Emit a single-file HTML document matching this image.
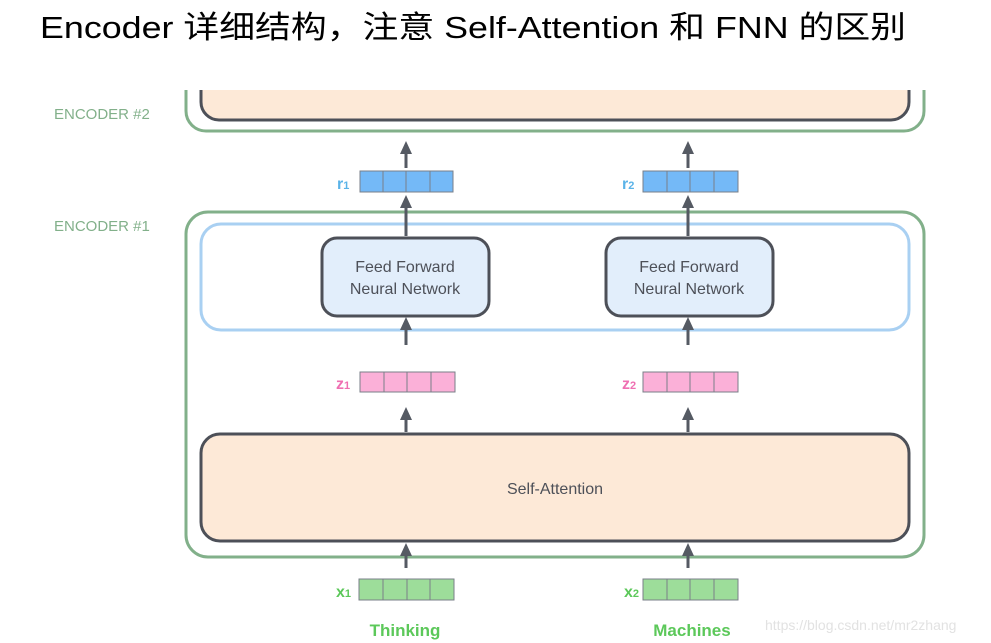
<!DOCTYPE html>
<html><head><meta charset="utf-8"><style>
html,body{margin:0;padding:0;background:#fff;width:991px;height:643px;overflow:hidden}
svg{display:block}
</style></head><body>
<svg width="991" height="643" viewBox="0 0 991 643" xmlns="http://www.w3.org/2000/svg" font-family="'Liberation Sans','DejaVu Sans',sans-serif">
<defs>
<clipPath id="c"><rect x="0" y="90" width="991" height="60"/></clipPath>
</defs>
<text x="40" y="38" font-size="31" fill="#000" textLength="866" lengthAdjust="spacingAndGlyphs" font-family="'Liberation Sans','Noto Sans CJK SC',sans-serif">Encoder 详细结构，注意 Self-Attention 和 FNN 的区别</text>

<g clip-path="url(#c)">
<rect x="186" y="40" width="738" height="91" rx="20" fill="none" stroke="#82b08a" stroke-width="3"/>
<rect x="201" y="40" width="708" height="80" rx="18" fill="#fde9d7" stroke="#4d5058" stroke-width="3"/>
</g>
<text x="54" y="119" font-size="15" fill="#82b08a">ENCODER #2</text>
<text x="54" y="231" font-size="15" fill="#82b08a">ENCODER #1</text>

<rect x="186" y="212" width="738" height="345" rx="22" fill="none" stroke="#82b08a" stroke-width="3"/>
<rect x="201" y="224" width="708" height="106" rx="20" fill="none" stroke="#a9d0f2" stroke-width="3"/>
<rect x="322" y="238" width="167" height="78" rx="15" fill="#e2eefb" stroke="#4d5058" stroke-width="3"/>
<rect x="606" y="238" width="167" height="78" rx="15" fill="#e2eefb" stroke="#4d5058" stroke-width="3"/>
<text x="405" y="272" font-size="16" fill="#4d5058" text-anchor="middle">Feed Forward</text>
<text x="405" y="294" font-size="16" fill="#4d5058" text-anchor="middle">Neural Network</text>
<text x="689" y="272" font-size="16" fill="#4d5058" text-anchor="middle">Feed Forward</text>
<text x="689" y="294" font-size="16" fill="#4d5058" text-anchor="middle">Neural Network</text>
<rect x="201" y="434" width="708" height="107" rx="19" fill="#fde9d7" stroke="#4d5058" stroke-width="3"/>
<text x="555" y="494" font-size="16" fill="#4d5058" text-anchor="middle">Self-Attention</text>

<g stroke="#555a63" stroke-width="3">
<line x1="406" y1="168" x2="406" y2="150"/><line x1="688" y1="168" x2="688" y2="150"/>
<line x1="406" y1="236" x2="406" y2="204"/><line x1="688" y1="236" x2="688" y2="204"/>
<line x1="406" y1="345" x2="406" y2="326"/><line x1="688" y1="345" x2="688" y2="326"/>
<line x1="406" y1="432" x2="406" y2="416"/><line x1="688" y1="432" x2="688" y2="416"/>
<line x1="406" y1="568" x2="406" y2="552"/><line x1="688" y1="568" x2="688" y2="552"/>
</g>
<g fill="#555a63">
<path d="M406,141 L412,154 L400,154Z"/><path d="M688,141 L694,154 L682,154Z"/>
<path d="M406,195 L412,208 L400,208Z"/><path d="M688,195 L694,208 L682,208Z"/>
<path d="M406,317 L412,330 L400,330Z"/><path d="M688,317 L694,330 L682,330Z"/>
<path d="M406,407 L412,420 L400,420Z"/><path d="M688,407 L694,420 L682,420Z"/>
<path d="M406,543 L412,556 L400,556Z"/><path d="M688,543 L694,556 L682,556Z"/>
</g>

<g stroke="#7a7f88" stroke-width="1">
<g fill="#74b9f7"><rect x="360" y="171" width="93" height="21"/><rect x="643" y="171" width="95" height="21"/></g>
<g fill="#fbb0d8"><rect x="360" y="372" width="95" height="20"/><rect x="643" y="372" width="95" height="20"/></g>
<g fill="#9ddd9a"><rect x="359" y="579" width="95" height="21"/><rect x="643" y="579" width="95" height="21"/></g>
<path d="M383,171v21M406,171v21M430,171v21M667,171v21M690,171v21M714,171v21M384,372v20M407,372v20M431,372v20M667,372v20M690,372v20M714,372v20M383,579v21M407,579v21M430,579v21M667,579v21M690,579v21M714,579v21" fill="none"/>
</g>
<g font-size="16" font-weight="bold">
<text x="337" y="189" fill="#5ab3e8">r<tspan font-size="11">1</tspan></text>
<text x="622" y="189" fill="#5ab3e8">r<tspan font-size="11">2</tspan></text>
<text x="336" y="389" fill="#ef6fb2">z<tspan font-size="11">1</tspan></text>
<text x="622" y="389" fill="#ef6fb2">z<tspan font-size="11">2</tspan></text>
<text x="336" y="597" fill="#5cc85a">x<tspan font-size="11">1</tspan></text>
<text x="624" y="597" fill="#5cc85a">x<tspan font-size="11">2</tspan></text>
<text x="405" y="636" fill="#5cc85a" text-anchor="middle" font-size="17">Thinking</text>
<text x="692" y="636" fill="#5cc85a" text-anchor="middle" font-size="17">Machines</text>
</g>
<text x="765" y="630" font-size="14" fill="#e2e2e2">https://blog.csdn.net/mr2zhang</text>
</svg>
</body></html>
